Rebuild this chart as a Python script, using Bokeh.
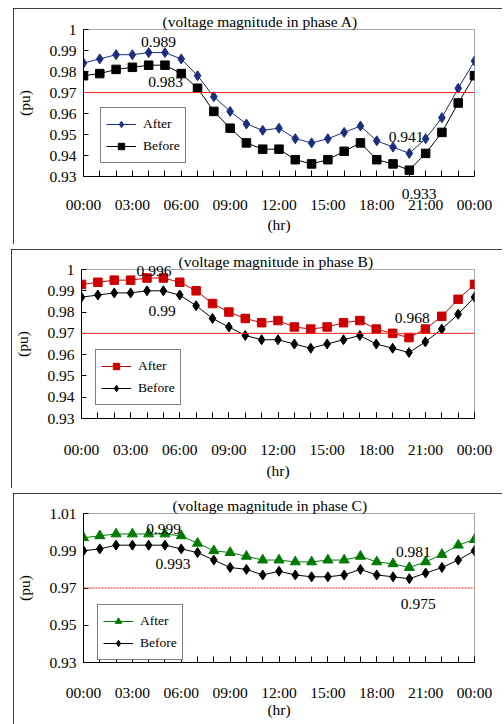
from bokeh.plotting import figure
from bokeh.models import FixedTicker, Label, Legend, LegendItem, Span, LinearAxis, Title
from bokeh.layouts import column
from bokeh.embed import file_html
from bokeh.resources import INLINE

# ---------------- data ----------------
hours = list(range(25))
x_tick_hours = [0, 3, 6, 9, 12, 15, 18, 21, 24]
x_tick_labels = ["00:00", "03:00", "06:00", "09:00", "12:00", "15:00", "18:00", "21:00", "00:00"]

a_after = [0.984, 0.986, 0.988, 0.988, 0.989, 0.989, 0.986, 0.978, 0.968, 0.961, 0.955, 0.952, 0.953,
           0.948, 0.946, 0.948, 0.951, 0.954, 0.947, 0.944, 0.941, 0.948, 0.958, 0.972, 0.985]
a_before = [0.978, 0.979, 0.981, 0.982, 0.983, 0.983, 0.979, 0.972, 0.961, 0.953, 0.946, 0.943, 0.943,
            0.938, 0.936, 0.938, 0.942, 0.946, 0.938, 0.936, 0.933, 0.941, 0.951, 0.965, 0.978]

b_after = [0.993, 0.994, 0.995, 0.995, 0.996, 0.996, 0.994, 0.990, 0.984, 0.980, 0.977, 0.975, 0.976,
           0.973, 0.972, 0.973, 0.975, 0.976, 0.972, 0.970, 0.968, 0.972, 0.978, 0.986, 0.993]
b_before = [0.987, 0.988, 0.989, 0.989, 0.990, 0.990, 0.988, 0.983, 0.977, 0.973, 0.969, 0.967, 0.967,
            0.965, 0.963, 0.965, 0.967, 0.969, 0.965, 0.963, 0.961, 0.966, 0.972, 0.979, 0.987]

c_after = [0.997, 0.998, 0.999, 0.999, 0.999, 0.999, 0.998, 0.994, 0.990, 0.989, 0.987, 0.985, 0.985,
           0.984, 0.984, 0.985, 0.985, 0.987, 0.984, 0.983, 0.981, 0.984, 0.988, 0.993, 0.996]
c_before = [0.990, 0.991, 0.993, 0.993, 0.993, 0.993, 0.991, 0.989, 0.985, 0.981, 0.980, 0.977, 0.979,
            0.977, 0.976, 0.976, 0.977, 0.980, 0.977, 0.976, 0.975, 0.978, 0.981, 0.985, 0.990]

limit = 0.97

ab_yticks = [0.93, 0.94, 0.95, 0.96, 0.97, 0.98, 0.99, 1.0]
ab_ytick_labels = ["0.93", "0.94", "0.95", "0.96", "0.97", "0.98", "0.99", "1"]
c_yticks = [0.93, 0.95, 0.97, 0.99, 1.01]
c_ytick_labels = ["0.93", "0.95", "0.97", "0.99", "1.01"]

titles = ["(voltage magnitude in phase A)", "(voltage magnitude in phase B)", "(voltage magnitude in phase C)"]
series_names = ["After", "Before"]

FONT = "Liberation Serif"
FS = "15.5px"


def fmt(v):
    return f"{v:g}"


def text_axis(xpos, val, standoff, minor=None, line=False):
    """An axis used only to carry a value label outside the plot frame."""
    ax = LinearAxis(ticker=FixedTicker(ticks=[xpos], minor_ticks=minor or []),
                    major_label_overrides={xpos: fmt(val)},
                    major_tick_in=0, major_tick_out=0, major_tick_line_color=None,
                    minor_tick_in=6, minor_tick_out=0, minor_tick_line_color="black",
                    axis_line_color="black" if line else None, axis_line_width=1,
                    major_label_standoff=standoff,
                    major_label_text_font=FONT, major_label_text_font_size=FS,
                    major_label_text_color="black")
    return ax


def make_panel(after, before, yticks, ylabels, title, after_color, after_marker, before_marker,
               width, height, borders, margin, xstand, xlabstand, legend_loc,
               title_offset, title_standoff, annots, after_size, before_size, limit_dash,
               below_annot=None, above_annot=None):
    left, right, top, bottom = borders
    p = figure(width=width, height=height, x_range=(0, 24), y_range=(yticks[0], yticks[-1]),
               output_backend="svg", toolbar_location=None,
               min_border_left=left, min_border_right=right, min_border_top=top, min_border_bottom=bottom,
               background_fill_color="white", border_fill_color="white", margin=margin)
    p.title_location = None
    p.styles = {"outline": "1px solid black", "outline-offset": "-1px"}
    p.grid.visible = False
    p.outline_line_color = "#A6A6A6"
    p.outline_line_width = 1

    # axes
    xax = p.xaxis[0]
    yax = p.yaxis[0]
    xax.ticker = FixedTicker(ticks=x_tick_hours, minor_ticks=hours)
    xax.major_label_overrides = {h: lab for h, lab in zip(x_tick_hours, x_tick_labels)}
    yax.ticker = FixedTicker(ticks=yticks, minor_ticks=[])
    yax.major_label_overrides = {t: lab for t, lab in zip(yticks, ylabels)}
    for ax in (xax, yax):
        ax.axis_line_color = "black"
        ax.axis_line_width = 1
        ax.major_tick_line_color = "black"
        ax.minor_tick_line_color = "black"
        ax.major_tick_out = 0
        ax.minor_tick_out = 0
        ax.major_label_text_font = FONT
        ax.major_label_text_font_size = FS
        ax.major_label_text_color = "black"
        ax.axis_label_text_font = FONT
        ax.axis_label_text_font_size = FS
        ax.axis_label_text_font_style = "normal"
        ax.axis_label_text_color = "black"
    xax.major_tick_in = 6
    xax.minor_tick_in = 6
    xax.major_label_standoff = xstand
    xax.axis_label = "(hr)"
    xax.axis_label_standoff = xlabstand
    yax.major_tick_in = 5
    yax.minor_tick_in = 0
    yax.major_label_standoff = 7
    yax.axis_label = "(pu)"
    yax.axis_label_standoff = 13

    if below_annot is not None:
        # value label between the x axis line and the hour labels
        bx, bval, bstand, main_stand = below_annot
        ann = text_axis(bx, bval, bstand, minor=hours, line=True)
        xax.axis_line_color = None
        xax.major_tick_line_color = None
        xax.minor_tick_line_color = None
        xax.major_label_standoff = main_stand
        p.below = [ann, xax]

    if above_annot is not None:
        ax_, aval, astand = above_annot
        p.add_layout(text_axis(ax_, aval, astand), "above")

    p.add_layout(Title(text=title, align="left", offset=title_offset, standoff=title_standoff,
                       text_font=FONT, text_font_size=FS, text_font_style="normal",
                       text_color="black"), "above")

    # limit line
    p.add_layout(Span(location=limit, dimension="width", line_color="#FF2020", line_width=1,
                      line_dash=limit_dash))

    # series
    la = p.line(hours, after, line_color=after_color, line_width=1)
    sa = p.scatter(hours, after, marker=after_marker, size=after_size,
                   fill_color=after_color, line_color=after_color)
    lb = p.line(hours, before, line_color="black", line_width=1)
    sb = p.scatter(hours, before, marker=before_marker, size=before_size,
                   fill_color="black", line_color="black")

    legend = Legend(items=[LegendItem(label=series_names[0], renderers=[la, sa]),
                           LegendItem(label=series_names[1], renderers=[lb, sb])],
                    location=legend_loc, margin=0, padding=5, spacing=0,
                    glyph_width=30, glyph_height=16, label_height=22, label_standoff=7,
                    border_line_color="black", border_line_width=1,
                    background_fill_color="white", background_fill_alpha=1,
                    label_text_font=FONT, label_text_font_size="13.5px", label_text_color="black")
    p.add_layout(legend)

    # value annotations inside the frame
    for (xv, val, yoff) in annots:
        p.add_layout(Label(x=xv, y=val, y_offset=yoff, text=fmt(val), text_align="center",
                           text_baseline="middle", text_font=FONT, text_font_size=FS,
                           text_color="black"))
    return p


pA = make_panel(a_after, a_before, ab_yticks, ab_ytick_labels, titles[0], "#1B2F7E", "diamond", "square",
                489, 236, (66, 28, 21, 68), (8, 0, 0, 13), 24, 0, (17, 13), 79, 0,
                [(4.6, max(a_after), 11), (5.04, max(a_before), -17), (19.8, min(a_after), 16)],
                10, 8.5, "solid",
                below_annot=(20.6, min(a_before), 12, -6))

pB = make_panel(b_after, b_before, ab_yticks, ab_ytick_labels, titles[1], "#CC0000", "square", "diamond",
                491, 239, (68, 28, 20, 70), (5, 0, 0, 11), 22, 1, (14, 13), 97, -14,
                [(4.92, max(b_before), -20), (20.2, min(b_after), 20)],
                8.5, 10, "solid",
                above_annot=(4.43, max(b_after), -6))

pC = make_panel(c_after, c_before, c_yticks, c_ytick_labels, titles[2], "#007A00", "triangle", "diamond",
                489, 231, (66, 28, 20, 62), (5, 0, 0, 13), 21, -3, (14, 2), 89, 0,
                [(4.92, max(c_after), 5), (5.49, max(c_before), -19),
                 (20.25, min(c_after), 16), (20.55, min(c_before), -25)],
                10, 10, "2 1")

layout = column(pA, pB, pC, spacing=0)

open("out.html", "w").write(file_html(layout, INLINE))
